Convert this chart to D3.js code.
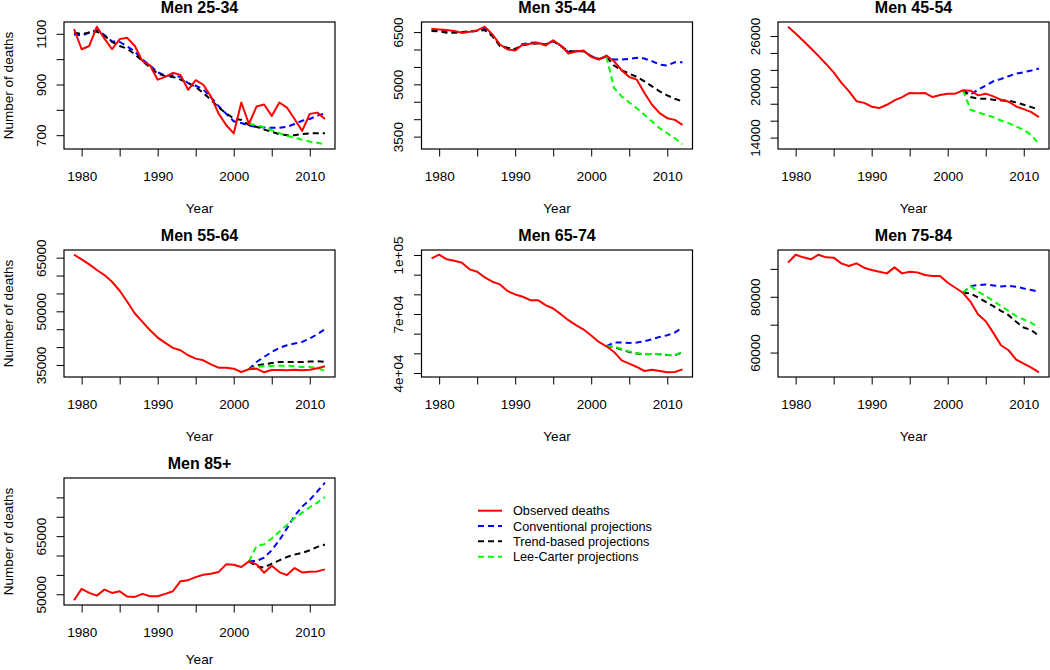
<!DOCTYPE html>
<html>
<head>
<meta charset="utf-8">
<script src="https://cdn.jsdelivr.net/npm/d3@7"></script>
<style>
  html, body { margin: 0; padding: 0; background: #fff; }
  svg { display: block; }
</style>
</head>
<body>
<svg id="chart" width="1050" height="670"></svg>
<script>
// ---------- DATA ----------
const years = [1979,1980,1981,1982,1983,1984,1985,1986,1987,1988,1989,1990,1991,1992,1993,1994,1995,1996,1997,1998,1999,2000,2001,2002,2003,2004,2005,2006,2007,2008,2009,2010,2011,2012];
const projYears = [2002,2003,2004,2005,2006,2007,2008,2009,2010,2011,2012];

const xTicks = [1980,1985,1990,1995,2000,2005,2010];
const xTickText = ["1980","","1990","","2000","","2010"];

// Men 25-34
const obs25 = [1119,1039,1052,1128,1081,1039,1079,1084,1052,992,975,919,930,946,938,879,917,899,853,786,740,707,829,744,813,821,776,829,809,764,717,784,789,764];
const conv25 = [1097,1093,1105,1115,1095,1070,1068,1050,1030,998,975,948,935,936,930,905,895,880,850,815,785,755,748,738,733,730,729,729,733,744,757,764,777,786];
const trend25 = [1105,1099,1105,1109,1092,1068,1052,1041,1019,992,968,943,933,930,919,906,890,866,840,810,786,766,760,740,733,722,713,704,700,700,704,707,708,708];
const lc25 = [744,740,731,720,708,698,690,682,675,670,664];
const yTicks25 = [700,800,900,1000,1100];
const yText25 = ["700","","900","","1100"];

// Men 35-44
const obs35 = [6596,6577,6558,6529,6481,6510,6548,6654,6433,6144,6000,5971,6144,6163,6192,6115,6260,6115,5885,5942,5971,5788,5712,5827,5663,5404,5212,5135,4750,4414,4173,4029,3981,3837];
const conv35 = [6570,6560,6520,6500,6490,6510,6540,6600,6420,6130,6030,5990,6160,6190,6200,6130,6250,6110,5930,5950,5960,5800,5720,5800,5712,5712,5731,5760,5740,5663,5567,5538,5635,5635];
const trend35 = [6529,6519,6481,6481,6500,6519,6529,6558,6385,6096,6048,6019,6115,6163,6173,6144,6240,6096,5952,5952,5952,5808,5731,5788,5538,5404,5308,5212,5087,4942,4798,4683,4587,4510];
const lc35 = [5788,4894,4654,4481,4317,4125,3933,3740,3596,3452,3280];
const yTicks35 = [3500,4000,4500,5000,5500,6000,6500];
const yText35 = ["3500","","","5000","","","6500"];

// Men 45-54
const obs45 = [27100,26300,25450,24550,23650,22700,21700,20500,19500,18300,18100,17650,17490,17880,18400,18790,19270,19230,19270,18790,19030,19190,19190,19585,19545,18990,19190,18870,18475,18240,17680,17370,17010,16420];
const conv45 = [19585,19070,19664,20139,20654,20931,21248,21565,21723,21921,22159];
const trend45 = [19585,18797,18600,18600,18475,18396,18357,18159,17882,17605,17288];
const lc45 = [19585,17288,16970,16694,16416,16021,15704,15308,14912,14318,13210];
const yTicks45 = [14000,16000,18000,20000,22000,24000,26000];
const yText45 = ["14000","","","20000","","","26000"];

// Men 55-64
const obs55 = [65830,64533,63131,61542,60140,58271,55747,52663,49392,47056,44719,42663,41168,39766,39111,37710,36775,36308,35186,34251,34251,33971,33037,33784,33971,32950,33598,33598,33504,33691,33504,33691,34065,34626];
const conv55 = [33784,35840,37242,38645,39766,40513,40981,41448,42383,43598,45000];
const trend55 = [33784,34906,35186,35560,35841,35841,35841,35841,35935,36028,35841];
const lc55 = [33784,34439,34626,34720,34813,34813,34626,34439,34439,34251,33317];
const yTicks55 = [35000,40000,45000,50000,55000,60000,65000];
const yText55 = ["35000","","","50000","","","65000"];

// Men 65-74
const obs65 = [98300,100150,97790,97110,96090,92690,91500,88610,86400,85040,81640,79940,78750,77050,77050,74500,72800,69910,66850,64300,62090,59030,55800,53590,50700,46450,44750,43050,41010,41690,41010,40350,40500,41860];
const conv65 = [53590,55460,55460,55290,55460,56140,57160,58350,59200,60560,63110];
const trend65 = [53590,53250,51890,50700,49850,49510,49680,49510,49170,49000,50530];
const lc65 = [53590,53500,52200,50900,50000,49600,49700,49600,49300,49100,50700];
const yTicks65 = [40000,50000,60000,70000,80000,90000,100000];
const yText65 = ["4e+04","","","7e+04","","","1e+05"];

// Men 75-84
const obs75 = [92220,95080,94136,93418,95080,94136,94017,91980,91022,91980,90423,89584,88985,88386,90542,88386,88985,88745,87787,87428,87428,85032,83235,81438,78203,73651,71255,67062,62629,60832,57478,56040,54602,52930];
const conv75 = [81438,83834,84193,84433,84073,83714,83953,83594,82995,82396,81797];
const trend75 = [81438,81198,79760,78203,76646,74968,73411,71015,68978,68020,65983];
const lc75 = [81438,83834,81797,80240,78562,76646,74968,73052,71854,70656,68978];
const yTicks75 = [60000,70000,80000,90000];
const yText75 = ["60000","","80000",""];

// Men 85+
const obs85 = [48440,51387,50347,49653,51214,50347,50780,49393,49306,50087,49480,49480,50087,50780,53381,53641,54422,55029,55289,55722,57716,57630,57023,58497,57716,55549,57370,55722,54942,56763,55636,55809,55896,56416];
const conv85 = [58497,58583,59450,61358,63959,66993,70201,72629,74363,76530,78790];
const trend85 = [58497,57196,56849,57890,58757,59624,60231,60664,61358,62225,62832];
const lc85 = [58497,62398,62918,64392,66126,67860,69594,71068,72455,73669,75056];
const yTicks85 = [50000,55000,60000,65000,70000,75000];
const yText85 = ["50000","","","65000","",""];

const legendLabels = ["Observed deaths","Conventional projections","Trend-based projections","Lee-Carter projections"];

// ---------- LAYOUT / STYLE ----------
const FONT = "'Liberation Sans', Arial, Helvetica, sans-serif";
const colLeft = [64, 421.5, 778];
const rowTop = [22, 250, 478];
const W = 271, H = 127;
const COLORS = { obs: "#FF0000", conv: "#0000FF", trend: "#000000", lc: "#00FF00" };
const DASH = "6,4";

const panels = [
  { title: "Men 25-34", obs: obs25, conv: conv25, convY: years, trend: trend25, trendY: years, lc: lc25, yt: yTicks25, ytx: yText25, col: 0, row: 0 },
  { title: "Men 35-44", obs: obs35, conv: conv35, convY: years, trend: trend35, trendY: years, lc: lc35, yt: yTicks35, ytx: yText35, col: 1, row: 0 },
  { title: "Men 45-54", obs: obs45, conv: conv45, convY: projYears, trend: trend45, trendY: projYears, lc: lc45, yt: yTicks45, ytx: yText45, col: 2, row: 0 },
  { title: "Men 55-64", obs: obs55, conv: conv55, convY: projYears, trend: trend55, trendY: projYears, lc: lc55, yt: yTicks55, ytx: yText55, col: 0, row: 1 },
  { title: "Men 65-74", obs: obs65, conv: conv65, convY: projYears, trend: trend65, trendY: projYears, lc: lc65, yt: yTicks65, ytx: yText65, col: 1, row: 1 },
  { title: "Men 75-84", obs: obs75, conv: conv75, convY: projYears, trend: trend75, trendY: projYears, lc: lc75, yt: yTicks75, ytx: yText75, col: 2, row: 1 },
  { title: "Men 85+",   obs: obs85, conv: conv85, convY: projYears, trend: trend85, trendY: projYears, lc: lc85, yt: yTicks85, ytx: yText85, col: 0, row: 2 }
];

const svg = d3.select("#chart");
svg.append("rect").attr("width", 1050).attr("height", 670).attr("fill", "#fff");

function padded(lo, hi) { const p = (hi - lo) * 0.04; return [lo - p, hi + p]; }

panels.forEach(p => {
  const left = colLeft[p.col], top = rowTop[p.row];
  const g = svg.append("g").attr("transform", `translate(${left},${top})`);

  const xd = padded(d3.min(years), d3.max(years));
  const x = d3.scaleLinear().domain(xd).range([0, W]);
  const all = [].concat(p.obs, p.conv, p.trend, p.lc);
  const y = d3.scaleLinear().domain(padded(d3.min(all), d3.max(all))).range([H, 0]);

  // axes
  const xa = g.append("g").attr("transform", `translate(0,${H})`)
    .call(d3.axisBottom(x).tickValues(xTicks).tickFormat((d, i) => xTickText[i]).tickSize(7.5).tickPadding(15));
  xa.select(".domain").remove();
  xa.attr("font-size", 13.5).attr("font-family", FONT);
  xa.selectAll("line").attr("stroke", "#000");
  xa.selectAll("text").attr("fill", "#000");

  const ya = g.append("g")
    .call(d3.axisLeft(y).tickValues(p.yt).tickFormat((d, i) => p.ytx[i]).tickSize(7.5));
  ya.select(".domain").remove();
  ya.attr("font-size", 13.5).attr("font-family", FONT);
  ya.selectAll("line").attr("stroke", "#000");
  ya.selectAll("text").attr("fill", "#000").attr("x", null).attr("dy", null)
    .attr("text-anchor", "middle").attr("transform", "translate(-18.5,0) rotate(-90)");

  // series
  const line = d3.line().x(d => x(d[0])).y(d => y(d[1]));
  const zipped = (ys, vs) => ys.map((yr, i) => [yr, vs[i]]);
  g.append("path").attr("d", line(zipped(p.convY, p.conv))).attr("fill", "none")
    .attr("stroke", COLORS.conv).attr("stroke-width", 2).attr("stroke-dasharray", DASH);
  g.append("path").attr("d", line(zipped(p.trendY, p.trend))).attr("fill", "none")
    .attr("stroke", COLORS.trend).attr("stroke-width", 2).attr("stroke-dasharray", DASH);
  g.append("path").attr("d", line(zipped(projYears, p.lc))).attr("fill", "none")
    .attr("stroke", COLORS.lc).attr("stroke-width", 2).attr("stroke-dasharray", DASH);
  g.append("path").attr("d", line(zipped(years, p.obs))).attr("fill", "none")
    .attr("stroke", COLORS.obs).attr("stroke-width", 2).attr("stroke-linejoin", "round");

  // box
  g.append("rect").attr("x", 0).attr("y", 0).attr("width", W).attr("height", H)
    .attr("fill", "none").attr("stroke", "#000").attr("stroke-width", 1.2);

  // title
  g.append("text").attr("x", W / 2).attr("y", -9.5).attr("text-anchor", "middle")
    .attr("font-family", FONT).attr("font-size", 16).attr("font-weight", "bold").text(p.title);

  // x label (kept fully inside the page on the bottom row)
  g.append("text").attr("x", W / 2).attr("y", Math.min(H + 64, 664 - top)).attr("text-anchor", "middle")
    .attr("font-family", FONT).attr("font-size", 13.5).text("Year");

  // y label (first column only)
  if (p.col === 0) {
    g.append("text").attr("transform", `translate(-50.7,${H / 2}) rotate(-90)`)
      .attr("text-anchor", "middle").attr("font-family", FONT).attr("font-size", 13.5)
      .text("Number of deaths");
  }
});

// legend
const legY = [510.7, 526, 541.3, 556.7];
const legKeys = ["obs", "conv", "trend", "lc"];
const lg = svg.append("g");
legKeys.forEach((k, i) => {
  lg.append("line").attr("x1", 478).attr("x2", 502).attr("y1", legY[i]).attr("y2", legY[i])
    .attr("stroke", COLORS[k]).attr("stroke-width", 2)
    .attr("stroke-dasharray", k === "obs" ? null : DASH);
  lg.append("text").attr("x", 513).attr("y", legY[i] + 4.6)
    .attr("font-family", FONT).attr("font-size", 12.7).text(legendLabels[i]);
});
</script>
</body>
</html>
